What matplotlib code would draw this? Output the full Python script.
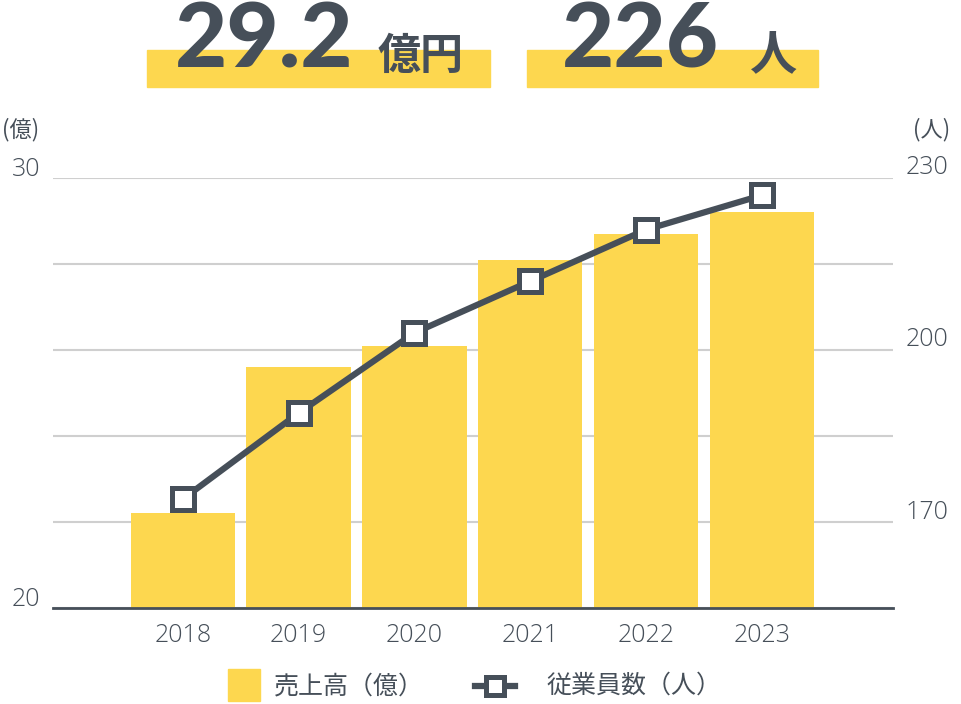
import numpy as np
import matplotlib.pyplot as plt
from matplotlib.patches import Rectangle
from matplotlib.lines import Line2D
from matplotlib.transforms import offset_copy

# data
years = ['2018', '2019', '2020', '2021', '2022', '2023']
sales = [22.2, 25.6, 26.1, 28.1, 28.7, 29.2]      # 億
staff = [174, 189, 203, 212, 221, 227]            # 人

left_ticks = [20, 30]
right_ticks = [170, 200, 230]

YELLOW = '#fdd74f'
DARK = '#464f59'
GRID = '#cfcfcf'
NUM = ['Open Sans', 'Noto Sans CJK JP', 'DejaVu Sans']
CJK = ['Noto Sans CJK JP', 'DejaVu Sans']

plt.rcParams['font.family'] = NUM

fig = plt.figure(figsize=(9.62, 7.04), dpi=100)
ax = fig.add_axes([53 / 962, 1 - 608 / 704, 840 / 962, 430 / 704])
ax2 = ax.twinx()

x = np.arange(len(years))
ax.bar(x, sales, width=0.9, color=YELLOW, zorder=2)
ax.set_ylim(20, 30)
ax.set_xlim(-1.12, 6.13)
ax.set_yticks(np.arange(20, 31, 2))
ax.grid(axis='y', color=GRID, linewidth=1.5, zorder=0)
ax.set_axisbelow(True)
ax.set_yticklabels([])
ax.tick_params(axis='y', length=0)
ax.tick_params(axis='x', length=0, pad=11)
ax.set_xticks(x)
ax.set_xticklabels(years, fontsize=18, color=DARK, fontweight='light')
for s in ['top', 'left', 'right']:
    ax.spines[s].set_visible(False)
ax.spines['bottom'].set_color(DARK)
ax.spines['bottom'].set_linewidth(2)

ax2.plot(x, staff, color=DARK, linewidth=4.5, marker='s', markersize=16,
         markerfacecolor='white', markeredgecolor=DARK, markeredgewidth=3.6,
         zorder=5)
ax2.set_ylim(155, 230)
ax2.set_yticks([])
for s in ax2.spines.values():
    s.set_visible(False)

# axis numbers, sitting slightly above their gridlines
ltr = offset_copy(ax.get_yaxis_transform(), fig=fig, x=-13, y=9, units='dots')
for v in left_ticks:
    ax.text(0, v, str(v), transform=ltr, ha='right', va='center',
            fontsize=18, color=DARK, fontweight='light')
rtr = offset_copy(ax2.get_yaxis_transform(), fig=fig, x=13, y=10, units='dots')
for v in right_ticks:
    ax2.text(1, v, str(v), transform=rtr, ha='left', va='center',
             fontsize=18, color=DARK, fontweight='light')

fig.text(21 / 962, 1 - 130 / 704, '(億)', ha='center', va='center',
         fontsize=16, color=DARK, family=CJK)
fig.text(932 / 962, 1 - 130 / 704, '(人)', ha='center', va='center',
         fontsize=16, color=DARK, family=CJK)

# header boxes
fig.patches.append(Rectangle((147 / 962, 1 - 87 / 704), 343 / 962, 37 / 704,
                             transform=fig.transFigure, color=YELLOW, zorder=0))
fig.patches.append(Rectangle((527 / 962, 1 - 87 / 704), 291 / 962, 37 / 704,
                             transform=fig.transFigure, color=YELLOW, zorder=0))
fig.text(264 / 962, 1 - 68 / 704, '29.2', ha='center', va='baseline',
         fontsize=65, fontweight='black', color=DARK, family='Lato')
fig.text(421 / 962, 1 - 69 / 704, '億円', ha='center', va='baseline',
         fontsize=31, fontweight='bold', color=DARK, family=CJK)
fig.text(640 / 962, 1 - 68 / 704, '226', ha='center', va='baseline',
         fontsize=65, fontweight='black', color=DARK, family='Lato')
fig.text(774 / 962, 1 - 69 / 704, '人', ha='center', va='baseline',
         fontsize=34, fontweight='bold', color=DARK, family=CJK)

# legend, drawn by hand
fig.patches.append(Rectangle((228 / 962, 1 - 701 / 704), 32 / 962, 32 / 704,
                             transform=fig.transFigure, color=YELLOW))
fig.text(274 / 962, 1 - 686 / 704, '売上高（億）', ha='left', va='center',
         fontsize=18, color=DARK, family=CJK)
fig.lines.append(Line2D([475 / 962, 515 / 962], [1 - 686 / 704, 1 - 686 / 704],
                        transform=fig.transFigure, color=DARK, linewidth=4.5))
fig.lines.append(Line2D([495 / 962], [1 - 686 / 704], transform=fig.transFigure,
                        linestyle='none', marker='s', markersize=13,
                        markerfacecolor='white', markeredgecolor=DARK,
                        markeredgewidth=3.6))
fig.text(547 / 962, 1 - 686 / 704, '従業員数（人）', ha='left', va='center',
         fontsize=18, color=DARK, family=CJK)

fig.savefig('out.png', dpi=100)
